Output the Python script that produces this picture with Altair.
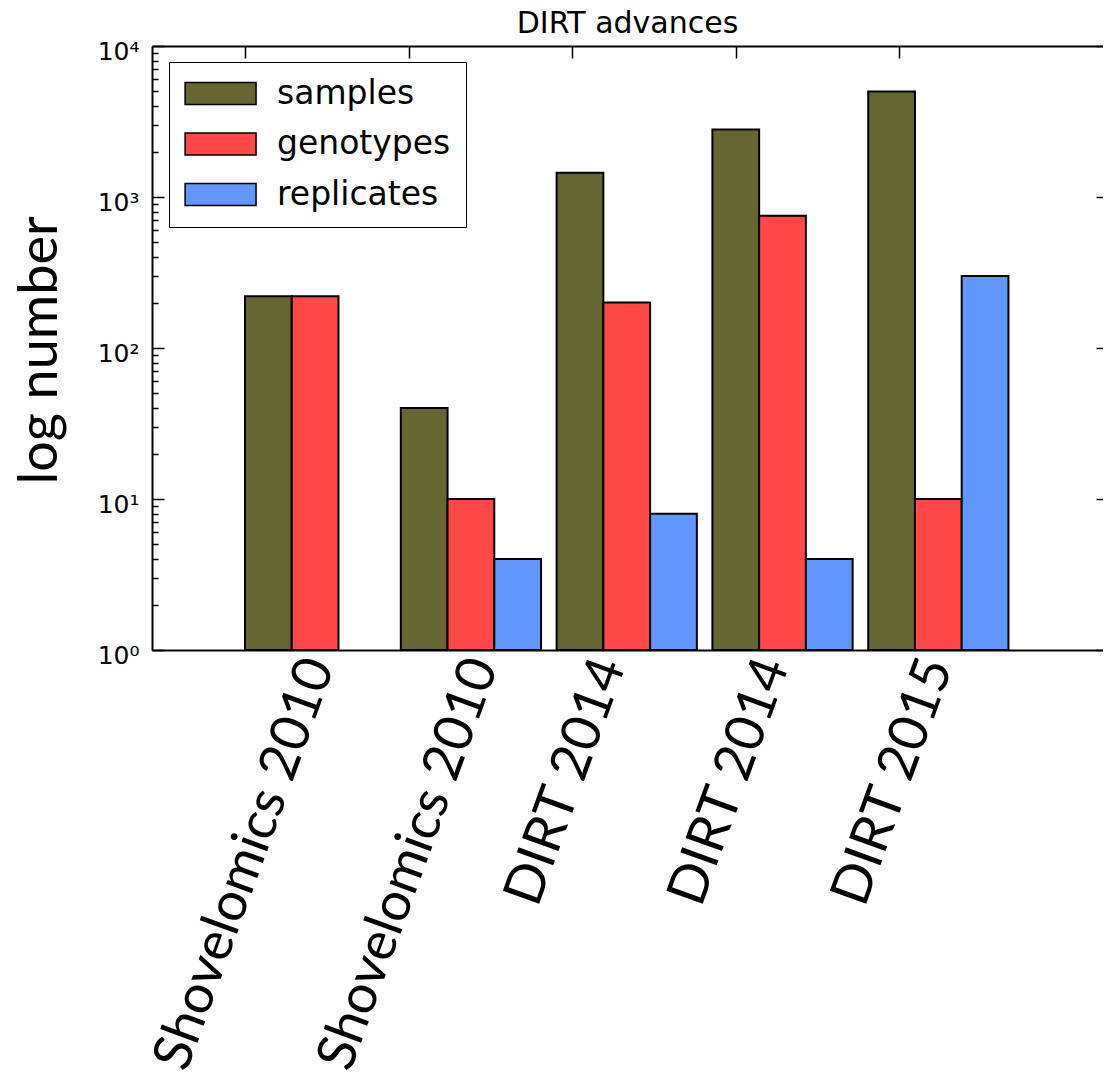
import altair as alt
import pandas as pd

# ---- data ----
categories = ["Shovelomics 2010", "Shovelomics 2010", "DIRT 2014", "DIRT 2014", "DIRT 2015"]
series = ["samples", "genotypes", "replicates"]
samples = [220, 40, 1450, 2800, 5000]
genotypes = [220, 10, 200, 750, 10]
replicates = [None, 4, 8, 4, 300]
tick_positions = [0.0, 1.05, 2.1, 3.15, 4.2]
y_ticks = [1, 10, 100, 1000, 10000]
y_minor = [m * 10 ** e for e in range(4) for m in range(2, 10)]
colors = ["#666633", "#ff4848", "#6196ff"]

BAR_W = 0.3
rows = []
for i, cat in enumerate(categories):
    for k, (name, vals) in enumerate(zip(series, [samples, genotypes, replicates])):
        v = vals[i]
        if v is None:
            continue
        rows.append({"group": i, "category": cat, "series": name,
                     "x": i + k * BAR_W, "x2": i + (k + 1) * BAR_W,
                     "value": v, "base": 1})
df = pd.DataFrame(rows)

xs = alt.Scale(domain=[-0.597, 5.507], nice=False, zero=False)
ys = alt.Scale(type="log", domain=[1, 10000], nice=False)

cat_list = "[" + ",".join("'" + c + "'" for c in categories) + "]"
x_label_expr = cat_list + "[round(datum.value / 1.05)]"
y_label_expr = "'10' + ['\u2070','\u00b9','\u00b2','\u00b3','\u2074'][round(log(datum.value)/LN10)]"

x_main_axis = alt.Axis(
    orient="bottom", values=tick_positions, labelExpr=x_label_expr,
    labelAngle=290, labelAlign="right", labelBaseline="middle",
    labelFont="Lato", labelFontSize=54, labelColor="black", labelLimit=0,
    labelPadding=10,
    labelOffset={"condition": {"test": "datum.value < 1.5", "value": 74}, "value": 38},
    labelOverlap=False, labelFlush=False, labelBound=False,
    ticks=False, domain=True, domainColor="black", domainWidth=2,
    grid=False, title=None,
)
y_main_axis = alt.Axis(
    orient="left", values=y_ticks, labelExpr=y_label_expr,
    labelFont="DejaVu Sans", labelFontSize=25, labelColor="black",
    labelPadding=13, labelOffset=5, labelOverlap=False, labelFlush=False,
    ticks=False, domain=True, domainColor="black", domainWidth=2, grid=False,
    title="log number", titleFont="Lato", titleFontSize=54, titleFontWeight="normal",
    titleColor="black", titleX=-112, titleY=304, titleAngle=270,
    titleAlign="center", titleBaseline="middle",
)

legend = alt.Legend(
    title=None, orient="none", legendX=17, legendY=16,
    symbolType="M-1.4,-1L5.05,-1L5.05,1L-1.4,1Z", symbolSize=484,
    symbolStrokeColor="black", symbolStrokeWidth=1.5, symbolOpacity=1,
    labelFont="DejaVu Sans", labelFontSize=33, labelColor="black", labelOffset=60,
    labelLimit=0,
    strokeColor="black", fillColor="white", padding=15, rowPadding=16.5,
    cornerRadius=0,
)

bars = alt.Chart(df).mark_rect(stroke="black", strokeWidth=2).encode(
    x=alt.X("x:Q", scale=xs, axis=x_main_axis),
    x2="x2:Q",
    y=alt.Y("value:Q", scale=ys, axis=y_main_axis),
    y2="base:Q",
    color=alt.Color("series:N", scale=alt.Scale(domain=series, range=colors), legend=legend),
)


def tick_axis(orient, values, size, domain=False):
    return alt.Axis(orient=orient, values=values, labels=False, domain=domain,
                    domainColor="black", domainWidth=2, grid=False,
                    ticks=True, tickSize={"expr": str(-size)}, tickColor="black",
                    tickWidth=1.5, title=None)


def tick_layer(x_axis, y_axis):
    return alt.Chart(df).mark_point(opacity=0, size=1).encode(
        x=alt.X("x:Q", scale=xs, axis=x_axis),
        y=alt.Y("value:Q", scale=ys, axis=y_axis),
    )


l2 = tick_layer(tick_axis("bottom", tick_positions, 12), tick_axis("left", y_ticks, 12))
l3 = tick_layer(tick_axis("top", tick_positions, 12, domain=True), tick_axis("right", y_ticks, 7))
l4 = tick_layer(None, tick_axis("left", y_minor, 6))

chart = alt.layer(bars, l2, l3, l4).resolve_axis(
    x="independent", y="independent"
).properties(
    width=951, height=604,
    title=alt.TitleParams("DIRT advances", font="DejaVu Sans", fontSize=30,
                          fontWeight="normal", color="black", anchor="middle", offset=0),
    autosize=alt.AutoSizeParams(type="none"),
    padding={"left": 144, "top": 38, "right": 0, "bottom": 429},
).configure_view(stroke=None)

chart.save("out.html", embed_options={"renderer": "svg", "actions": False})
